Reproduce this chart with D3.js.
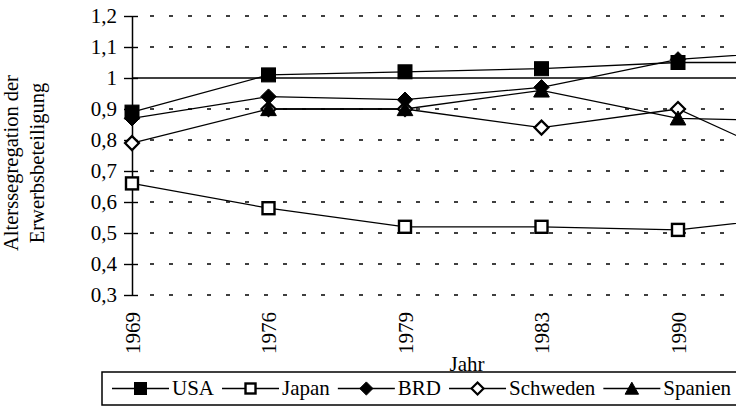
<!DOCTYPE html>
<html><head><meta charset="utf-8">
<script src="https://cdn.jsdelivr.net/npm/d3@7"></script>
<style>
html,body{margin:0;padding:0;background:#fff;}
svg{display:block;}
svg text{font-family:"Liberation Serif","DejaVu Serif",serif;}
</style></head>
<body>
<svg id="c" width="736" height="407"></svg>
<script>
const years = ["1969","1976","1979","1983","1990","1995"];
const usa      = [0.89, 1.01, 1.02, 1.03, 1.05, 1.05];
const japan    = [0.66, 0.58, 0.52, 0.52, 0.51, 0.56];
const brd      = [0.87, 0.94, 0.93, 0.97, 1.06, 1.09];
const schweden = [0.79, 0.90, 0.90, 0.84, 0.90, 0.70];
const spanien  = [null, 0.90, 0.90, 0.96, 0.87, 0.86];
const yTicks = [0.3,0.4,0.5,0.6,0.7,0.8,0.9,1.0,1.1,1.2];
const seriesNames = ["USA","Japan","BRD","Schweden","Spanien"];
const seriesSymbols = ["square","squareOpen","diamond","diamondOpen","triangle"];
const seriesData = [usa, japan, brd, schweden, spanien];

const W = 736;
const FF = "Liberation Serif";
const FS = 21;
const svg = d3.select("#c");
const x = d3.scalePoint().domain(years).range([132, 814.5]);
const y = d3.scaleLinear().domain([0.3, 1.2]).range([295, 16]);
const fmt = v => (Math.abs(v-1) < 1e-9 ? "1" : d3.format(".1f")(v).replace(".", ","));

// gridlines (dotted) except 1
const grid = svg.append("g");
yTicks.forEach(t => {
  if (Math.abs(t-1) < 1e-9) return;
  grid.append("line").attr("x1", 150).attr("x2", W)
    .attr("y1", y(t)).attr("y2", y(t))
    .attr("stroke", "#000").attr("stroke-width", 1.5)
    .attr("stroke-dasharray", "4,15");
});
// solid line at 1
svg.append("line").attr("x1", x("1969")).attr("x2", W)
  .attr("y1", y(1)).attr("y2", y(1)).attr("stroke", "#000").attr("stroke-width", 1.3);

// y axis
const yAxis = d3.axisLeft(y).tickValues(yTicks).tickFormat(fmt).tickSize(0).tickPadding(15);
const ga = svg.append("g").attr("transform", `translate(${x("1969")},0)`).call(yAxis);
ga.attr("font-family", FF).attr("font-size", FS);
ga.select(".domain").attr("stroke", "#000").attr("stroke-width", 1.5);
ga.selectAll("text").attr("font-size", FS).attr("fill", "#000").attr("font-family", FF);
ga.selectAll(".tick").append("line").attr("x1", -8).attr("x2", 6).attr("stroke", "#000").attr("stroke-width", 1.4);

// x labels (only those inside the visible frame)
const xAxis = d3.axisBottom(x).tickValues(years.filter(d => x(d) < W)).tickSize(0).tickPadding(0);
const gx = svg.append("g").attr("transform", `translate(0,${y(0.3)})`).call(xAxis);
gx.attr("font-family", FF).attr("font-size", FS);
gx.select(".domain").remove();
gx.selectAll("text").attr("font-size", FS).attr("fill", "#000")
  .attr("font-family", FF)
  .attr("text-anchor", "end").attr("transform", "rotate(-90)")
  .attr("x", -17).attr("y", 0).attr("dy", "0.35em");

// series lines
const line = d3.line().defined(d => d[1] != null).x(d => x(d[0])).y(d => y(d[1]));
seriesData.forEach(vals => {
  svg.append("path").datum(years.map((yr,i) => [yr, vals[i]]))
    .attr("d", line).attr("fill", "none").attr("stroke", "#000").attr("stroke-width", 1.3);
});

function marker(g, kind, cx, cy, s) {
  if (kind === "square" || kind === "squareOpen") {
    const open = kind === "squareOpen";
    const ss = open ? s - 2 : s;
    g.append("rect").attr("x", cx - ss/2).attr("y", cy - ss/2).attr("width", ss).attr("height", ss)
      .attr("fill", open ? "#fff" : "#000").attr("stroke", "#000").attr("stroke-width", open ? 2.4 : 1);
  } else if (kind === "diamond" || kind === "diamondOpen") {
    const open = kind === "diamondOpen";
    const h = open ? s*0.5 : s*0.55;
    g.append("path").attr("d", `M${cx},${cy-h}L${cx+h},${cy}L${cx},${cy+h}L${cx-h},${cy}Z`)
      .attr("fill", open ? "#fff" : "#000").attr("stroke", "#000").attr("stroke-width", open ? 2.2 : 1);
  } else {
    const w = s*0.56, h = s*0.5;
    g.append("path").attr("d", `M${cx},${cy-h*1.05}L${cx+w},${cy+h*0.95}L${cx-w},${cy+h*0.95}Z`)
      .attr("fill", "#000").attr("stroke", "#000").attr("stroke-width", 1);
  }
}
const mg = svg.append("g");
seriesData.forEach((vals, si) => {
  vals.forEach((v, i) => { if (v != null) marker(mg, seriesSymbols[si], x(years[i]), y(v), 14); });
});

// axis titles
const yt = svg.append("text").attr("transform", "translate(18,163) rotate(-90)")
  .attr("text-anchor", "middle").attr("font-size", 20.5).attr("font-family", FF).attr("fill", "#000");
yt.append("tspan").attr("x", 0).attr("dy", 0).text("Alterssegregation der");
yt.append("tspan").attr("x", 0).attr("dy", 26).text("Erwerbsbeteiligung");

svg.append("text").attr("x", 467).attr("y", 371).attr("text-anchor", "middle")
  .attr("font-size", FS).attr("font-family", FF).attr("fill", "#000").text("Jahr");

// legend
svg.append("rect").attr("x", 102).attr("y", 372).attr("width", 660).attr("height", 33)
  .attr("fill", "none").attr("stroke", "#000").attr("stroke-width", 1.5);
let lx = 112;
const ly = 388.5;
seriesNames.forEach((name, i) => {
  const g = svg.append("g");
  g.append("line").attr("x1", lx).attr("x2", lx + 57).attr("y1", ly).attr("y2", ly)
    .attr("stroke", "#000").attr("stroke-width", 1.3);
  marker(g, seriesSymbols[i], lx + 28.5, ly, 12);
  const t = g.append("text").attr("x", lx + 60).attr("y", 395).attr("font-size", FS)
    .attr("font-family", FF).attr("fill", "#000").text(name);
  lx = lx + 60 + t.node().getComputedTextLength() + 8;
});
</script>
</body></html>
